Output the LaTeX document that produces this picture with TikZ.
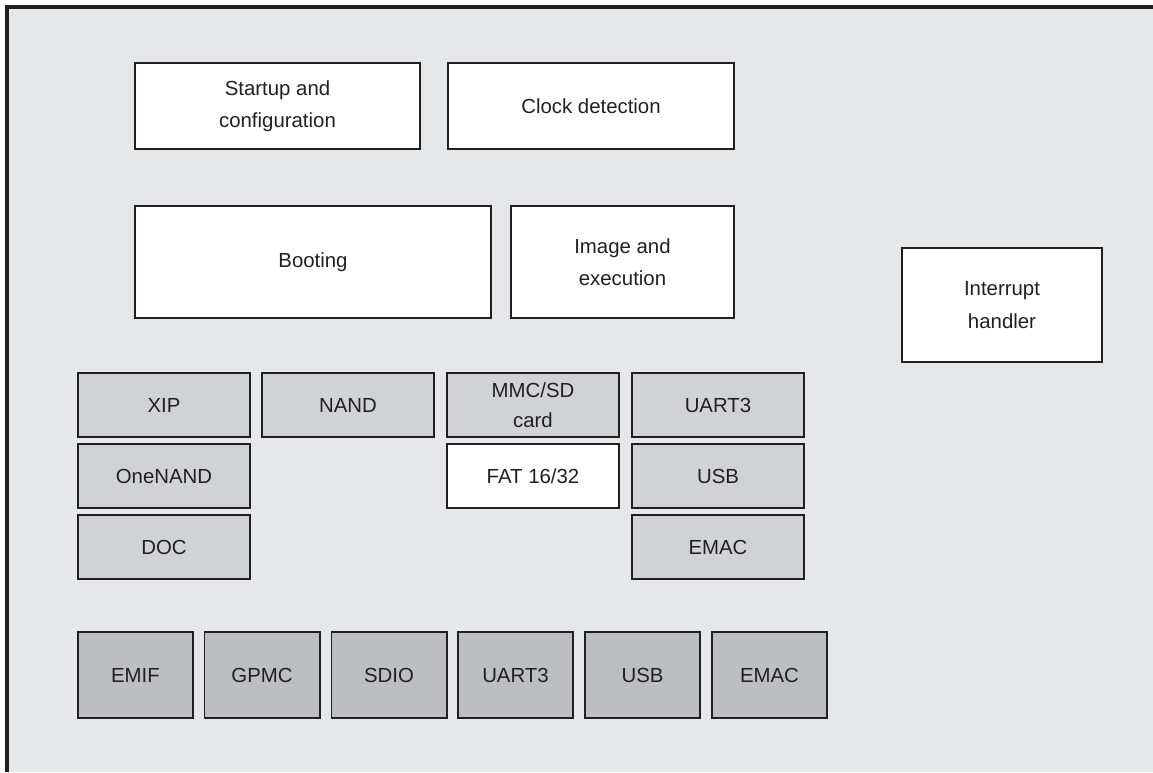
\documentclass[tikz,border=0pt]{standalone}
\usepackage{fontspec}
\setmainfont{Liberation Sans}
\definecolor{fondo}{HTML}{E6E7E8}
\definecolor{grigiomedio}{HTML}{D1D2D4}
\definecolor{grigioscuro}{HTML}{BCBEC0}
\definecolor{bordo}{HTML}{231F20}
\begin{document}
\begin{tikzpicture}[
    x=0.025cm, y=-0.025cm,
    blocco/.style={draw=bordo, line width=1.4pt, fill=white, align=center, inner sep=2pt,
        font=\fontsize{14.5}{23}\selectfont, text=bordo},
    modulo/.style={blocco, fill=grigiomedio, minimum width=4.3cm, minimum height=1.6cm},
    periferica/.style={blocco, fill=grigioscuro, minimum width=2.875cm, minimum height=2.15cm},
    cornice/.style={draw=bordo, line width=2.8pt}
]

    \useasboundingbox (0,0) rectangle (1153,772);

    % 1. Sfondo e cornice
    \fill[fondo] (7,7) rectangle (1153,772);
    \draw[cornice] (7,772) -- (7,7) -- (1153,7);

    % 2. Blocchi superiori
    \node[blocco, minimum width=7.125cm, minimum height=2.15cm] (startup) at (277.5,106) {Startup and\\configuration};
    \node[blocco, minimum width=7.15cm, minimum height=2.15cm] (clock) at (591,106) {Clock detection};
    \node[blocco, minimum width=8.9cm, minimum height=2.8cm] (booting) at (313,262) {Booting};
    \node[blocco, minimum width=5.575cm, minimum height=2.8cm] (image) at (622.5,262) {Image and\\execution};
    \node[blocco, minimum width=5cm, minimum height=2.85cm] (interrupt) at (1002,305) {Interrupt\\handler};

    % 3. Moduli di boot
    % colonna 1
    \node[modulo] (xip) at (164,405) {XIP};
    \node[modulo] (onenand) at (164,476) {OneNAND};
    \node[modulo] (doc) at (164,547) {DOC};
    % colonna 2
    \node[modulo] (nand) at (348,405) {NAND};
    % colonna 3
    \node[modulo] (mmc) at (533,405) {MMC/SD\\[-2pt]card};
    \node[modulo, fill=white] (fat) at (533,476) {FAT 16/32};
    % colonna 4
    \node[modulo] (uartA) at (718,405) {UART3};
    \node[modulo] (usbA) at (718,476) {USB};
    \node[modulo] (emacA) at (718,547) {EMAC};

    % 4. Periferiche
    \node[periferica] (emif) at (135.5,675) {EMIF};
    \node[periferica] (gpmc) at (262,675) {GPMC};
    \node[periferica] (sdio) at (389,675) {SDIO};
    \node[periferica] (uartB) at (515.5,675) {UART3};
    \node[periferica] (usbB) at (642.5,675) {USB};
    \node[periferica] (emacB) at (769.5,675) {EMAC};

\end{tikzpicture}
\end{document}
